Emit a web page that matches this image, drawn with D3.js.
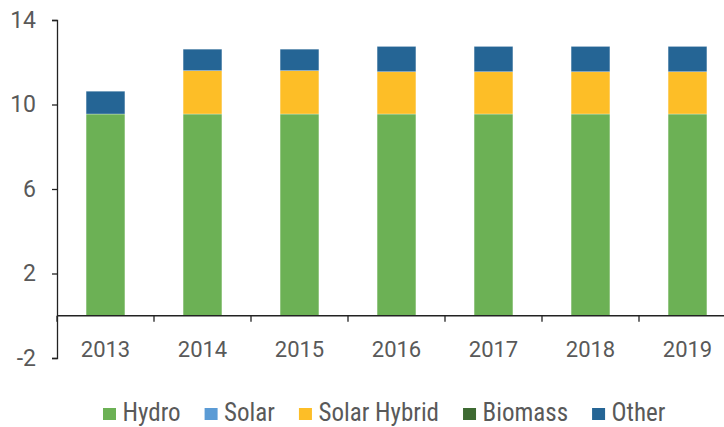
<!DOCTYPE html>
<html>
<head>
<meta charset="utf-8">
<script src="https://cdn.jsdelivr.net/npm/d3@7"></script>
<style>
  body { margin: 0; background: #fff; }
  text { font-family: Roboto, "Liberation Sans", sans-serif; fill: #595959; }
</style>
</head>
<body>
<svg id="chart" width="724" height="427"></svg>
<script>
let years = ['2013', '2014', '2015', '2016', '2017', '2018', '2019']
let seriesNames = ['Hydro', 'Solar', 'Solar Hybrid', 'Biomass', 'Other']
let colors = ['#6cb155', '#5b9bd5', '#fdbe27', '#3e6a32', '#256595']

let hydro = [9.55, 9.55, 9.55, 9.55, 9.55, 9.55, 9.55]
let solar = [0, 0, 0, 0, 0, 0, 0]
let solarHybrid = [0, 2.05, 2.05, 2.0, 2.0, 2.0, 2.0]
let biomass = [0, 0, 0, 0, 0, 0, 0]
let other = [1.08, 1.02, 1.02, 1.2, 1.2, 1.2, 1.2]

let yTicks = [-2, 2, 6, 10, 14]

let rows = years.map((y, i) => ({
    year: y,
    'Hydro': hydro[i],
    'Solar': solar[i],
    'Solar Hybrid': solarHybrid[i],
    'Biomass': biomass[i],
    'Other': other[i]
}))

let svg = d3.select('#chart')

let x = d3.scaleBand().domain(years).range([57, 736]).paddingInner(0.6).paddingOuter(0.3)
let y = d3.scaleLinear().domain([-2, 14]).range([358, 20])

let stacked = d3.stack().keys(seriesNames)(rows)

svg.append('g')
    .selectAll('g')
    .data(stacked)
    .enter()
    .append('g')
    .attr('fill', (d, i) => colors[i])
    .selectAll('rect')
    .data(d => d)
    .enter()
    .append('rect')
    .attr('x', d => x(d.data.year))
    .attr('width', x.bandwidth())
    .attr('y', d => y(d[1]))
    .attr('height', d => Math.max(0, y(d[0]) - y(d[1])))
    .attr('stroke', '#ffffff')
    .attr('stroke-opacity', 0.5)
    .attr('stroke-width', 0.6)

// y axis
let yAxis = svg.append('g')
    .attr('transform', 'translate(57,0)')
    .call(d3.axisLeft(y).tickValues(yTicks).tickFormat(d => String(d)).tickSize(5).tickPadding(16))
yAxis.select('.domain').attr('stroke', '#222').attr('stroke-width', 1.3)
yAxis.selectAll('.tick line').attr('stroke', '#222').attr('stroke-width', 1.3)
yAxis.selectAll('text').attr('font-size', 23).attr('fill', '#595959')
    .style('font-family', 'Roboto, "Liberation Sans", sans-serif')

// x axis at zero
let step = x.step()
let bounds = d3.range(years.length + 1).map(i => x.range()[0] + i * step)
svg.append('line')
    .attr('x1', 57).attr('x2', 724)
    .attr('y1', y(0)).attr('y2', y(0))
    .attr('stroke', '#222').attr('stroke-width', 1.3)
svg.append('g')
    .selectAll('line')
    .data(bounds.filter(b => b < 724))
    .enter()
    .append('line')
    .attr('x1', d => d).attr('x2', d => d)
    .attr('y1', y(0)).attr('y2', y(0) + 6)
    .attr('stroke', '#222').attr('stroke-width', 1.3)

svg.append('g')
    .selectAll('text')
    .data(years)
    .enter()
    .append('text')
    .attr('x', d => x(d) + x.bandwidth() / 2)
    .attr('y', 357)
    .attr('text-anchor', 'middle')
    .attr('font-size', 22)
    .text(d => d)

// legend
let legend = svg.append('g')
let lx = 103
seriesNames.forEach((name, i) => {
    legend.append('rect')
        .attr('x', lx).attr('y', 408)
        .attr('width', 13).attr('height', 12)
        .attr('fill', colors[i])
    let t = legend.append('text')
        .attr('x', lx + 19.5).attr('y', 421)
        .attr('font-size', 25)
        .style('font-family', '"Roboto Condensed", Roboto, sans-serif')
        .text(name)
    lx = lx + 19.5 + t.node().getComputedTextLength() + 24
})
</script>
</body>
</html>
